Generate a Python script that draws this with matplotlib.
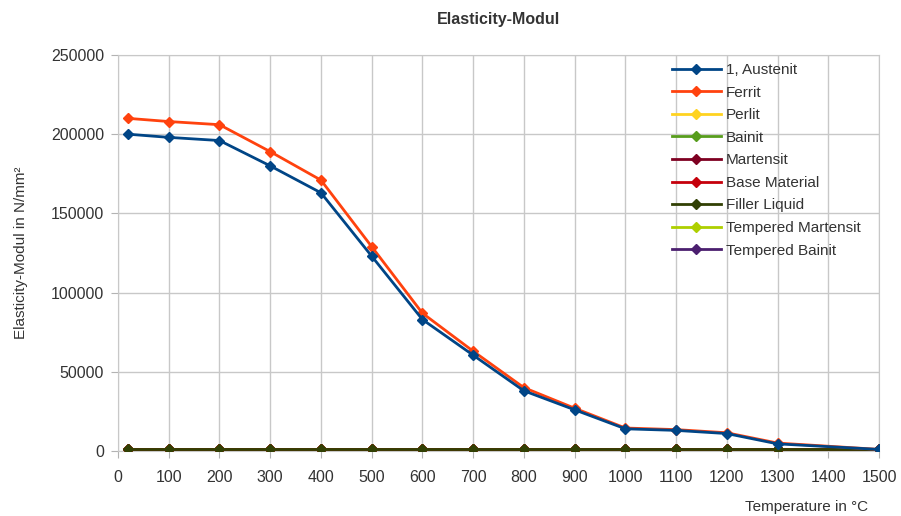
import matplotlib
matplotlib.use("Agg")
import matplotlib.pyplot as plt
from matplotlib.lines import Line2D

plt.rcParams['font.family'] = ['Liberation Sans', 'DejaVu Sans']

temps = [20, 100, 200, 300, 400, 500, 600, 700, 800, 900, 1000, 1100, 1200, 1300, 1500]
austenit = [200000, 198000, 196000, 180000, 163000, 123000, 83000, 60500, 38000, 26000, 14000, 13000, 11000, 4500, 1000]
ferrit = [210000, 208000, 206000, 189000, 171000, 129000, 87000, 63000, 40000, 27000, 14500, 13500, 11500, 5000, 1000]
flat = [1000] * len(temps)

series_names = ["1, Austenit", "Ferrit", "Perlit", "Bainit", "Martensit", "Base Material",
                "Filler Liquid", "Tempered Martensit", "Tempered Bainit"]
colors = ["#004586", "#ff420e", "#ffd320", "#579d1c", "#7e0021", "#c5000b",
          "#314004", "#aecf00", "#4b1f6f"]
series_values = {
    "1, Austenit": austenit,
    "Ferrit": ferrit,
    "Perlit": flat,
    "Bainit": flat,
    "Martensit": flat,
    "Base Material": flat,
    "Filler Liquid": flat,
    "Tempered Martensit": [],
    "Tempered Bainit": [],
}
zorders = {"1, Austenit": 6, "Ferrit": 5, "Filler Liquid": 4}

fig = plt.figure(figsize=(9.01, 5.16), dpi=100)
ax = fig.add_axes([0.131, 0.126, 0.8446, 0.7674])

handles = []
for name, c in zip(series_names, colors):
    vals = series_values[name]
    xs = temps[:len(vals)]
    ax.plot(xs, vals, color=c, lw=2, marker='D', ms=5.5, zorder=zorders.get(name, 3))
    handles.append(Line2D([0], [0], color=c, lw=2, marker='D', ms=5.5))

ax.set_xlim(0, 1500)
ax.set_ylim(0, 250000)
ax.set_xticks(range(0, 1501, 100))
ax.set_yticks(range(0, 250001, 50000))
ax.grid(True, color='#c8c8c8', lw=1)
ax.set_axisbelow(True)
for s in ax.spines.values():
    s.set_color('#c8c8c8')
ax.tick_params(axis='both', colors='#b3b3b3', labelcolor='#333333', labelsize=11.5, length=5)
ax.tick_params(axis='x', pad=9)
ax.tick_params(axis='y', pad=5)

ax.set_title("Elasticity-Modul", fontsize=11.5, fontweight='bold', color='#333333', pad=22)
ax.set_ylabel("Elasticity-Modul in N/mm²", fontsize=11, color='#333333')
ax.yaxis.set_label_coords(-0.118, 0.5)
ax.set_xlabel("Temperature in °C", fontsize=11, color='#333333')
ax.xaxis.set_label_coords(0.905, -0.125)

leg = ax.legend(handles, series_names, loc='upper left', bbox_to_anchor=(0.72, 0.995),
                frameon=False, fontsize=11, handlelength=3.2, labelspacing=0.56,
                handletextpad=0.3, borderaxespad=0)
for t in leg.get_texts():
    t.set_color('#333333')

fig.savefig("out.png", dpi=100)
